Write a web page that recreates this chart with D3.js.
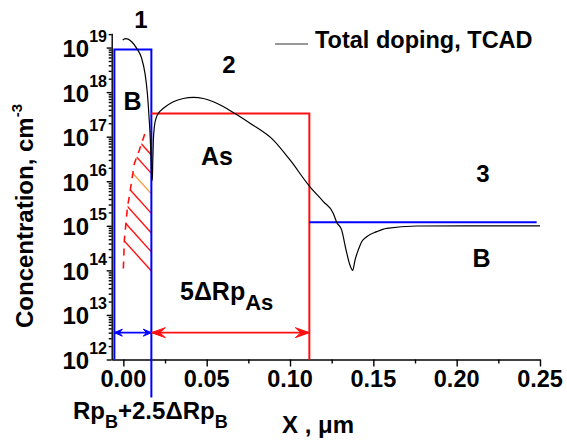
<!DOCTYPE html>
<html><head><meta charset="utf-8">
<script src="https://cdn.jsdelivr.net/npm/d3@7"></script>
<style>
body{margin:0;background:#fff}
svg text{font-family:"Liberation Sans",Arial,sans-serif;font-weight:bold;fill:#000}
</style>
</head><body>
<svg id="chart" width="567" height="441"></svg>
<script>
// ---------- data ----------
const xMajorTicks = [0, 0.05, 0.10, 0.15, 0.20, 0.25];
const xMinorTicks = [0.025, 0.075, 0.125, 0.175, 0.225];
const xTickLabels = ["0.00", "0.05", "0.10", "0.15", "0.20", "0.25"];
const yExponents = [12, 13, 14, 15, 16, 17, 18, 19];
const xDomain = [-0.007, 0.25];
const yDomain = [1e12, 2.1e19];

// TCAD total doping profile
const tcadX = [-0.0004, 0.0016, 0.0050, 0.0080, 0.0110, 0.0130, 0.0144, 0.0154, 0.0160, 0.0166, 0.0170, 0.0174,
  0.0176, 0.0180, 0.0186, 0.0196, 0.0210, 0.0240, 0.0300, 0.0360, 0.0420, 0.0480, 0.0540, 0.0620, 0.0670,
  0.0760, 0.0900, 0.1000, 0.1116, 0.1200, 0.1260, 0.1280, 0.1310, 0.1336, 0.1360, 0.1376, 0.1390, 0.1410,
  0.1430, 0.1460, 0.1520, 0.1580, 0.1760, 0.2060, 0.2500];
const tcadC = [1.47e19, 1.58e19, 1.35e19, 9.6e18, 5.7e18, 2.6e18, 9.4e17, 2.8e17, 1.19e17, 3.5e16, 1.26e16, 1.06e16,
  2.5e16, 8.4e16, 1.67e17, 2.58e17, 3.34e17, 4.33e17, 6.1e17, 7.2e17, 7.6e17, 7.2e17, 6.1e17, 4.3e17, 3.3e17,
  2.0e17, 8.4e16, 3.0e16, 7.8e15, 3.5e15, 1.9e15, 1.2e15, 8.0e14, 2.9e14, 1.3e14, 1.0e14, 1.7e14, 2.9e14,
  4.4e14, 5.7e14, 7.4e14, 8.8e14, 9.9e14, 1.0e15, 1.0e15];

// Box profiles: region 1 (B), region 2 (As), region 3 (B background)
const boronBoxX = [-0.0054, 0.0168];
const boronBoxC = 9e18;
const boronBoxBottomC = [1e12, 1.4e11];
const arsenicBoxX = [0.0168, 0.1116];
const arsenicBoxC = 3.3e17;
const substrateX = [0.1116, 0.248];
const substrateC = 1.2e15;

// range arrows
const arrowC = 4e12;
const boronArrowX = [-0.0054, 0.0168];
const arsenicArrowX = [0.0168, 0.1116];

// hatched boron tail
const hatchEdgeX = [0.0000, 0.0006, 0.0024, 0.0040, 0.0066, 0.0096, 0.0130, 0.0142];
const hatchEdgeC = [1.1e14, 4.8e14, 2.5e15, 5.8e15, 2.5e16, 5.0e16, 1.2e17, 1.3e17];
const hatchRightX = 0.0168;
const hatchRightC = [1.0e17, 8e13];
const hatchEndC = [3.9e16, 1.5e16, 5.2e15, 1.9e15, 6.9e14, 2.6e14, 9.7e13];
const hatchOrangeIndex = 2;

// ---------- scales ----------
const svg = d3.select("#chart");
const x = d3.scaleLinear().domain(xDomain).range([111.7, 540]);
const y = d3.scaleLog().domain(yDomain).range([359.5, 33.2]);
const X0 = x.range()[0], Y0 = y.range()[0];

const FS = 23;
function txt(g, px, py, anchor, size) {
  return g.append("text").attr("x", px).attr("y", py).attr("text-anchor", anchor || "start")
    .style("font-size", (size || FS) + "px");
}

// ---------- axes ----------
const xAxis = d3.axisBottom(x).tickValues(xMajorTicks).tickSize(7).tickSizeOuter(0).tickFormat("");
svg.append("g").attr("transform", `translate(0,${Y0})`).call(xAxis);
const xMinor = d3.axisBottom(x).tickValues(xMinorTicks).tickSize(4).tickSizeOuter(0).tickFormat("");
svg.append("g").attr("transform", `translate(0,${Y0})`).call(xMinor).select(".domain").remove();

const yMinorVals = [];
yExponents.forEach(e => { for (let m = 2; m <= 9; m++) { const v = m * Math.pow(10, e); if (v <= yDomain[1]) yMinorVals.push(v); } });
const yAxis = d3.axisLeft(y).tickValues(yExponents.map(e => Math.pow(10, e))).tickSize(5).tickSizeOuter(0).tickFormat("");
svg.append("g").attr("transform", `translate(${X0},0)`).call(yAxis);
const yMinor = d3.axisLeft(y).tickValues(yMinorVals).tickSize(3).tickSizeOuter(0).tickFormat("");
svg.append("g").attr("transform", `translate(${X0},0)`).call(yMinor).select(".domain").remove();
svg.selectAll(".domain, .tick line").attr("stroke", "#000").attr("stroke-width", 1.4);

// x tick labels
xMajorTicks.forEach((v, i) => {
  txt(svg, x(v), Y0 + 27, "middle", 23.5).text(xTickLabels[i]);
});
// y tick labels
yExponents.forEach(e => {
  const t = txt(svg, 107, y(Math.pow(10, e)) + 9.5, "end", 24);
  t.append("tspan").text("10");
  t.append("tspan").attr("dy", -15).style("font-size", "16px").text(e);
});

// axis titles
const yl = svg.append("text").attr("transform", "translate(33.3,328) rotate(-90)")
  .style("font-size", "24px");
yl.append("tspan").text("Concentration, cm");
yl.append("tspan").attr("dy", -11).style("font-size", "15px").text("-3");
txt(svg, 282, 433, "start", 24).text("X , \u03bcm");

const rp = txt(svg, 73, 419, "start", 24);
rp.append("tspan").text("Rp");
rp.append("tspan").attr("dy", 9).style("font-size", "18px").text("B");
rp.append("tspan").attr("dy", -9).text("+2.5\u0394Rp");
rp.append("tspan").attr("dy", 9).style("font-size", "18px").text("B");

// ---------- hatched region ----------
const edgePts = hatchEdgeX.map((v, i) => [x(v), y(hatchEdgeC[i])]);
const poly = edgePts.concat([[x(hatchRightX), y(hatchRightC[0])], [x(hatchRightX), y(hatchRightC[1])]]);
svg.append("clipPath").attr("id", "hatchClip").append("path")
  .attr("d", "M" + poly.map(p => p.join(",")).join("L") + "Z");
const hg = svg.append("g").attr("clip-path", "url(#hatchClip)");
hatchEndC.forEach((c, i) => {
  const ex = x(hatchRightX), ey = y(c);
  hg.append("line").attr("x1", ex).attr("y1", ey).attr("x2", ex - 45).attr("y2", ey - 50)
    .attr("stroke", i === hatchOrangeIndex ? "#f4a040" : "#ff1010").attr("stroke-width", 1.4);
});
svg.append("path").attr("d", d3.line()(edgePts)).attr("fill", "none")
  .attr("stroke", "#ff1010").attr("stroke-width", 1.6).attr("stroke-dasharray", "7,6");

// ---------- box profiles ----------
svg.append("path")
  .attr("d", `M${x(boronBoxX[0])},${y(boronBoxBottomC[0])}V${y(boronBoxC)}H${x(boronBoxX[1])}V${y(boronBoxBottomC[1])}`)
  .attr("fill", "none").attr("stroke", "#0000ff").attr("stroke-width", 2);
svg.append("path")
  .attr("d", `M${x(arsenicBoxX[0])},${y(arsenicBoxC)}H${x(arsenicBoxX[1])}V${y(1e12)}`)
  .attr("fill", "none").attr("stroke", "#ff1010").attr("stroke-width", 2);
svg.append("line").attr("x1", x(substrateX[0])).attr("x2", x(substrateX[1]))
  .attr("y1", y(substrateC)).attr("y2", y(substrateC))
  .attr("stroke", "#0000ff").attr("stroke-width", 2);

// ---------- TCAD curve ----------
svg.append("path")
  .attr("d", d3.line().x((d, i) => x(tcadX[i])).y((d, i) => y(tcadC[i])).curve(d3.curveMonotoneX)(tcadX))
  .attr("fill", "none").attr("stroke", "#000").attr("stroke-width", 1.2);

// ---------- arrows ----------
function arrow(xs, color, L, W) {
  const ay = y(arrowC), a = x(xs[0]), b = x(xs[1]);
  svg.append("line").attr("x1", a).attr("x2", b).attr("y1", ay).attr("y2", ay)
    .attr("stroke", color).attr("stroke-width", 1.6);
  const head = (tip, dir) => `M${tip},${ay}L${tip + dir * L},${ay - W}L${tip + dir * L * 0.6},${ay}L${tip + dir * L},${ay + W}Z`;
  svg.append("path").attr("d", head(a, 1)).attr("fill", color).attr("stroke", color).attr("stroke-width", 1);
  svg.append("path").attr("d", head(b, -1)).attr("fill", color).attr("stroke", color).attr("stroke-width", 1);
}
arrow(boronArrowX, "#0000ff", 8, 3.5);
arrow(arsenicArrowX, "#ff1010", 14, 5);

// ---------- annotations ----------
txt(svg, 141, 28.3, "middle", 24).text("1");
txt(svg, 229, 73, "middle", 24).text("2");
txt(svg, 483, 181.7, "middle", 24).text("3");
txt(svg, 132.5, 110, "middle", 25).text("B");
txt(svg, 217, 165, "middle", 25).text("As");
txt(svg, 481.5, 267, "middle", 25).text("B");
const r5 = txt(svg, 180, 300, "start", 25);
r5.append("tspan").text("5\u0394Rp");
r5.append("tspan").attr("dy", 10).style("font-size", "22px").text("As");

// ---------- legend ----------
svg.append("line").attr("x1", 275).attr("x2", 308).attr("y1", 44).attr("y2", 44)
  .attr("stroke", "#333").attr("stroke-width", 1.2);
txt(svg, 315, 48.3, "start", 23.5).text("Total doping, TCAD");
</script>
</body></html>
